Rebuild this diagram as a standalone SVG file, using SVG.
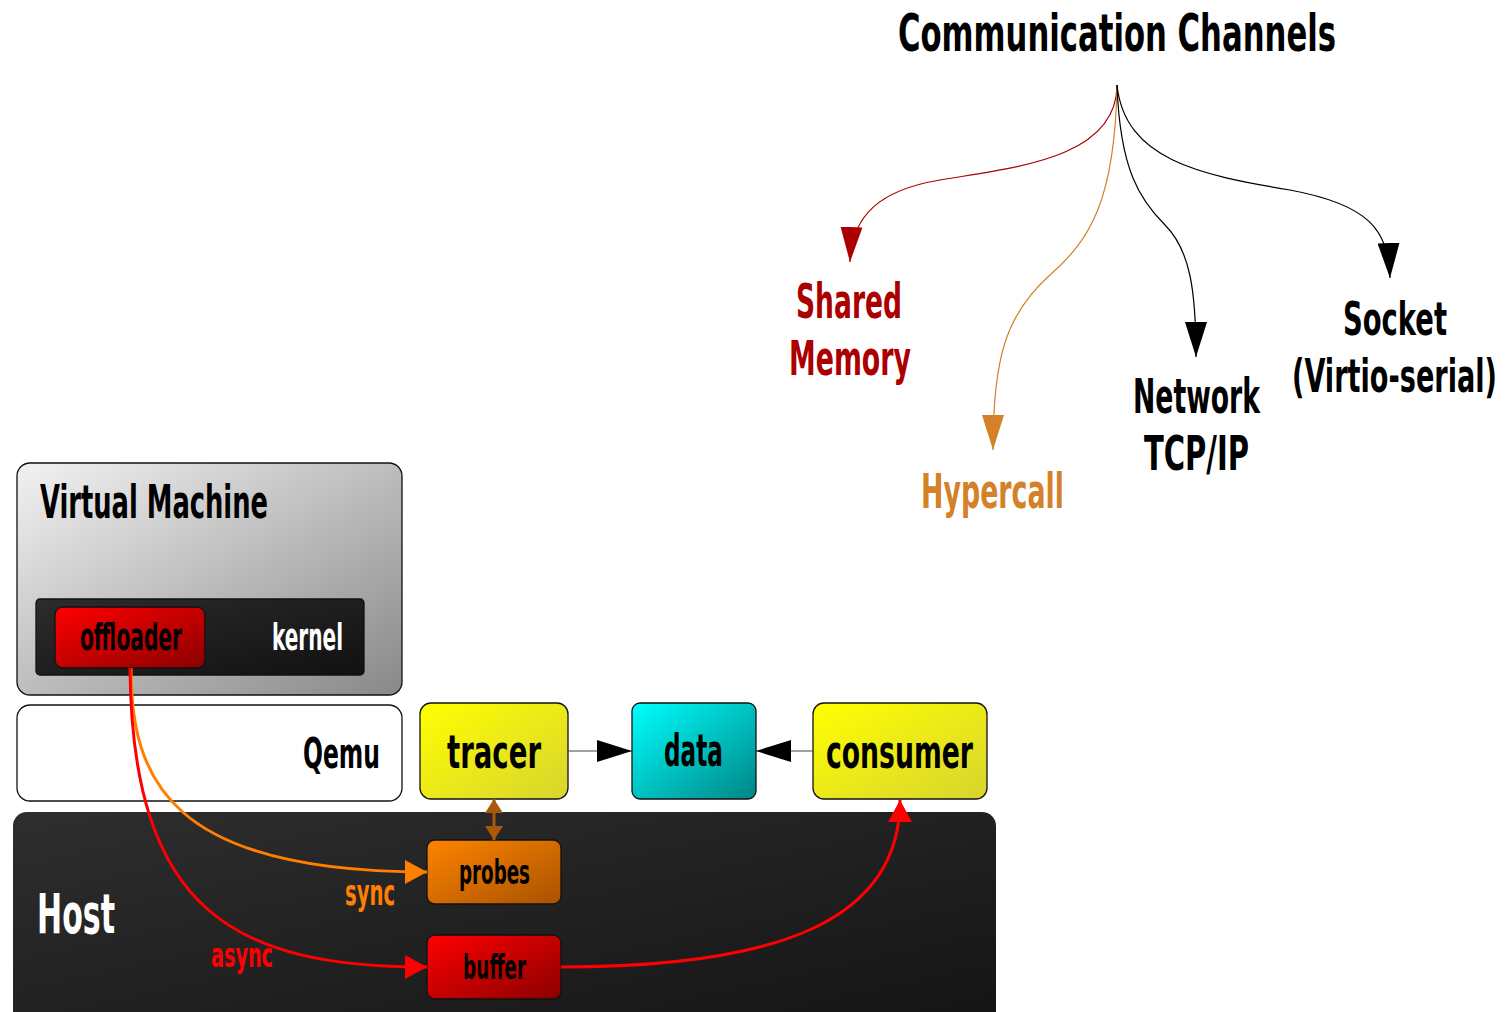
<svg xmlns="http://www.w3.org/2000/svg" width="1507" height="1012" viewBox="0 0 1507 1012">
<style>
text{font-family:"Liberation Sans Narrow","DejaVu Sans Condensed","Liberation Sans",sans-serif;font-weight:bold;}
.box{stroke:#111;stroke-width:1.3;}
.thin{fill:none;stroke-width:1.2;}
.thick{fill:none;stroke-width:3;}
</style>
<defs>
<linearGradient id="gVM" x1="0" y1="0" x2="1" y2="1"><stop offset="0" stop-color="#f2f2f2"/><stop offset="1" stop-color="#888"/></linearGradient>
<linearGradient id="gKern" x1="0" y1="0" x2="1" y2="1"><stop offset="0" stop-color="#2c2c2c"/><stop offset="1" stop-color="#111"/></linearGradient>
<linearGradient id="gRed" x1="0" y1="0" x2="1" y2="1"><stop offset="0" stop-color="#ff0000"/><stop offset="1" stop-color="#8a0000"/></linearGradient>
<linearGradient id="gYel" x1="0" y1="0" x2="1" y2="1"><stop offset="0" stop-color="#ffff00"/><stop offset="1" stop-color="#d8d430"/></linearGradient>
<linearGradient id="gCyan" x1="0" y1="0" x2="1" y2="1"><stop offset="0" stop-color="#00ffff"/><stop offset="1" stop-color="#008585"/></linearGradient>
<linearGradient id="gHost" x1="0" y1="0" x2="1" y2="1"><stop offset="0" stop-color="#2e2e2e"/><stop offset="1" stop-color="#141414"/></linearGradient>
<linearGradient id="gOrg" x1="0" y1="0" x2="1" y2="1"><stop offset="0" stop-color="#ff8400"/><stop offset="1" stop-color="#a85200"/></linearGradient>
<marker id="aDarkRed" markerUnits="userSpaceOnUse" viewBox="0 0 35 22" refX="35" refY="11" markerWidth="35" markerHeight="22" orient="auto"><path d="M0,0 L35,11 L0,22 z" fill="#aa0000"/></marker>
<marker id="aTan" markerUnits="userSpaceOnUse" viewBox="0 0 35 22" refX="35" refY="11" markerWidth="35" markerHeight="22" orient="auto"><path d="M0,0 L35,11 L0,22 z" fill="#d4812a"/></marker>
<marker id="aBlack" markerUnits="userSpaceOnUse" viewBox="0 0 35 22" refX="35" refY="11" markerWidth="35" markerHeight="22" orient="auto"><path d="M0,0 L35,11 L0,22 z" fill="#000"/></marker>
<marker id="aRed" markerUnits="userSpaceOnUse" viewBox="0 0 22 24" refX="22" refY="12" markerWidth="22" markerHeight="24" orient="auto"><path d="M0,0 L22,12 L0,24 z" fill="#ff0000"/></marker>
<marker id="aOrange" markerUnits="userSpaceOnUse" viewBox="0 0 22 24" refX="22" refY="12" markerWidth="22" markerHeight="24" orient="auto"><path d="M0,0 L22,12 L0,24 z" fill="#ff8000"/></marker>
<marker id="aBrown" markerUnits="userSpaceOnUse" viewBox="0 0 14 18" refX="14" refY="9" markerWidth="14" markerHeight="18" orient="auto-start-reverse"><path d="M0,0 L14,9 L0,18 z" fill="#a85a0a"/></marker>
</defs>

<g id="title"><text x="898" y="51" font-size="52" textLength="438" lengthAdjust="spacingAndGlyphs" fill="#000">Communication Channels</text></g>
<g id="shared-memory" fill="#aa0000">
<text x="796" y="318" font-size="48" textLength="106" lengthAdjust="spacingAndGlyphs">Shared</text>
<text x="789" y="375" font-size="48" textLength="122" lengthAdjust="spacingAndGlyphs">Memory</text>
</g>
<g id="hypercall" fill="#d4812a"><text x="921" y="508" font-size="48" textLength="143" lengthAdjust="spacingAndGlyphs">Hypercall</text></g>
<g id="network" fill="#000">
<text x="1133" y="413" font-size="48" textLength="127" lengthAdjust="spacingAndGlyphs">Network</text>
<text x="1144" y="470" font-size="48" textLength="105" lengthAdjust="spacingAndGlyphs">TCP/IP</text>
</g>
<g id="socket" fill="#000">
<text x="1343" y="335" font-size="47" textLength="104" lengthAdjust="spacingAndGlyphs">Socket</text>
<text x="1292" y="392" font-size="47" textLength="205" lengthAdjust="spacingAndGlyphs">(Virtio-serial)</text>
</g>

<g id="vm">
<rect class="box" x="17" y="463" width="385" height="232" rx="13" fill="url(#gVM)"/>
<text x="40" y="518" font-size="47" textLength="228" lengthAdjust="spacingAndGlyphs" fill="#000">Virtual Machine</text>
</g>
<g id="kernel">
<rect class="box" x="36" y="599" width="328" height="76" rx="4" fill="url(#gKern)"/>
<text x="272" y="650" font-size="38" textLength="71" lengthAdjust="spacingAndGlyphs" fill="#fff">kernel</text>
</g>
<g id="offloader">
<rect class="box" x="55" y="607" width="150" height="61" rx="8" fill="url(#gRed)"/>
<text x="80" y="650" font-size="38" textLength="102" lengthAdjust="spacingAndGlyphs" fill="#000">offloader</text>
</g>
<g id="qemu">
<rect class="box" x="17" y="705" width="385" height="96" rx="13" fill="#fff"/>
<text x="303" y="768" font-size="43" textLength="77" lengthAdjust="spacingAndGlyphs" fill="#000">Qemu</text>
</g>
<g id="host">
<rect x="13" y="812" width="983" height="215" rx="14" fill="url(#gHost)"/>
<text x="37" y="933" font-size="55" textLength="78" lengthAdjust="spacingAndGlyphs" fill="#fff">Host</text>
</g>
<g id="tracer">
<rect class="box" x="420" y="703" width="148" height="96" rx="11" fill="url(#gYel)"/>
<text x="447" y="768" font-size="47" textLength="94" lengthAdjust="spacingAndGlyphs" fill="#000">tracer</text>
</g>
<g id="data">
<rect class="box" x="632" y="703" width="124" height="96" rx="8" fill="url(#gCyan)"/>
<text x="664" y="766" font-size="45" textLength="59" lengthAdjust="spacingAndGlyphs" fill="#000">data</text>
</g>
<g id="consumer">
<rect class="box" x="813" y="703" width="174" height="96" rx="11" fill="url(#gYel)"/>
<text x="826" y="768" font-size="47" textLength="147" lengthAdjust="spacingAndGlyphs" fill="#000">consumer</text>
</g>
<g id="probes">
<rect class="box" x="427" y="840" width="134" height="64" rx="8" fill="url(#gOrg)"/>
<text x="459" y="884" font-size="34" textLength="71" lengthAdjust="spacingAndGlyphs" fill="#000">probes</text>
</g>
<g id="buffer">
<rect class="box" x="427" y="935" width="134" height="64" rx="8" fill="url(#gRed)"/>
<text x="463" y="979" font-size="34" textLength="63" lengthAdjust="spacingAndGlyphs" fill="#000">buffer</text>
</g>
<g id="labels">
<text x="345" y="905" font-size="35" textLength="50" lengthAdjust="spacingAndGlyphs" fill="#ff8000">sync</text>
<text x="211" y="967" font-size="34" textLength="62" lengthAdjust="spacingAndGlyphs" fill="#ff0000">async</text>
</g>

<g id="connectors">
<path class="thin" stroke="#aa0000" d="M1117,85 C1117,160 1010,168 940,180 C880,190 852,215 850,262" marker-end="url(#aDarkRed)"/>
<path class="thin" stroke="#d4812a" d="M1117,85 C1115,200 1090,240 1050,275 C1005,315 993,360 993,450" marker-end="url(#aTan)"/>
<path class="thin" stroke="#000" d="M1117,85 C1120,170 1140,200 1165,225 C1190,250 1196,290 1196,357" marker-end="url(#aBlack)"/>
<path class="thin" stroke="#000" d="M1117,85 C1125,160 1200,175 1290,190 C1370,205 1388,230 1390,278" marker-end="url(#aBlack)"/>
<path class="thin" stroke="#444" d="M568,751 L632,751" marker-end="url(#aBlack)"/>
<path class="thin" stroke="#444" d="M813,751 L756,751" marker-end="url(#aBlack)"/>
<path class="thick" stroke="#ff8000" d="M131,668 C131,780 170,872 427,872" marker-end="url(#aOrange)"/>
<path class="thick" stroke="#ff0000" d="M130,668 C132,912 235,967 427,967" marker-end="url(#aRed)"/>
<path class="thick" stroke="#ff0000" d="M561,967 C780,967 900,920 900,800" marker-end="url(#aRed)"/>
<path class="thick" stroke="#a85a0a" d="M494,799 L494,840" marker-start="url(#aBrown)" marker-end="url(#aBrown)"/>
</g>
</svg>
